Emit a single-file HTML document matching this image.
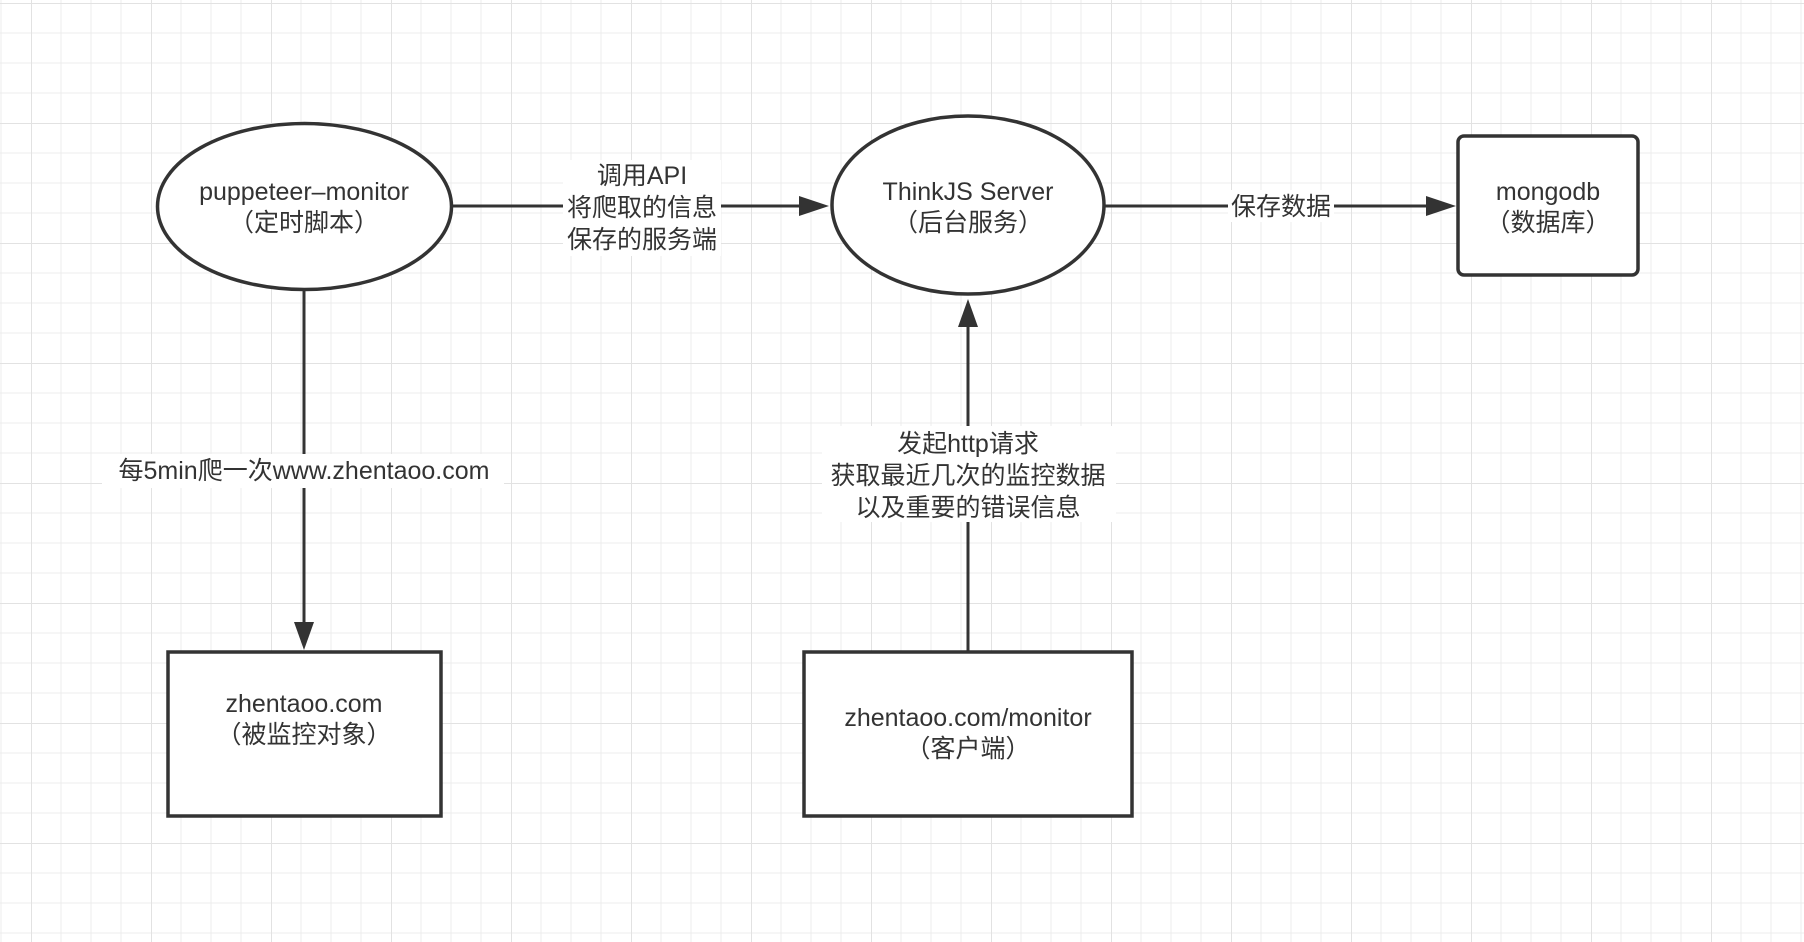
<!DOCTYPE html>
<html><head><meta charset="utf-8"><style>
html,body{margin:0;padding:0;background:#fff}
svg{display:block}
text{font-family:"Liberation Sans","Noto Sans CJK SC",sans-serif;fill:#333;font-size:25px;text-anchor:middle}
</style></head><body>
<svg width="1804" height="942" viewBox="0 0 1804 942" xmlns="http://www.w3.org/2000/svg">
<defs>
<pattern id="g" width="120" height="120" patternUnits="userSpaceOnUse" x="31" y="3">
<path d="M0 0V120M30 0V120M60 0V120M90 0V120M0 0H120M0 30H120M0 60H120M0 90H120" stroke="#ececec" stroke-width="1" fill="none"/>
<path d="M0 0V120M0 0H120" stroke="#e2e2e2" stroke-width="2" fill="none"/>
</pattern>
<marker id="a" markerWidth="10" markerHeight="8" refX="9" refY="4" orient="auto" markerUnits="userSpaceOnUse" viewBox="0 0 10 8">
</marker>
</defs>
<rect width="1804" height="942" fill="url(#g)"/>
<g stroke="#333" stroke-width="3" fill="none">
<line x1="452" y1="206" x2="800" y2="206"/>
<line x1="1104" y1="206" x2="1428" y2="206"/>
<line x1="304" y1="290" x2="304" y2="624"/>
<line x1="968" y1="816" x2="968" y2="326"/>
</g>
<g fill="#333">
<polygon points="829,206 799,196 799,216"/>
<polygon points="1456,206 1426,196 1426,216"/>
<polygon points="304,650 294,622 314,622"/>
<polygon points="968,299 958,327 978,327"/>
</g>
<g stroke="#333" stroke-width="3.5" fill="#fff">
<ellipse cx="304.5" cy="206.5" rx="147" ry="83"/>
<ellipse cx="968" cy="205" rx="136" ry="89"/>
<rect x="1458" y="136" width="180" height="139" rx="6"/>
<rect x="168" y="652" width="273" height="164"/>
<rect x="804" y="652" width="328" height="164"/>
</g>
<g fill="#fff">
<rect x="563" y="160" width="158" height="96"/>
<rect x="1228" y="190" width="106" height="32"/>
<rect x="102" y="454" width="402" height="34"/>
<rect x="822" y="426" width="294" height="96"/>
</g>
<text x="304" y="200">puppeteer–monitor</text>
<text x="304" y="231">（定时脚本）</text>
<text x="968" y="200">ThinkJS Server</text>
<text x="968" y="231">（后台服务）</text>
<text x="1548" y="200">mongodb</text>
<text x="1548" y="231">（数据库）</text>
<text x="304" y="712">zhentaoo.com</text>
<text x="304" y="743">（被监控对象）</text>
<text x="968" y="726">zhentaoo.com/monitor</text>
<text x="968" y="757">（客户端）</text>
<text x="642" y="184">调用API</text>
<text x="642" y="216">将爬取的信息</text>
<text x="642" y="248">保存的服务端</text>
<text x="1281" y="215">保存数据</text>
<text x="304" y="479">每5min爬一次www.zhentaoo.com</text>
<text x="968" y="452">发起http请求</text>
<text x="968" y="484">获取最近几次的监控数据</text>
<text x="968" y="516">以及重要的错误信息</text>
</svg>
</body></html>
